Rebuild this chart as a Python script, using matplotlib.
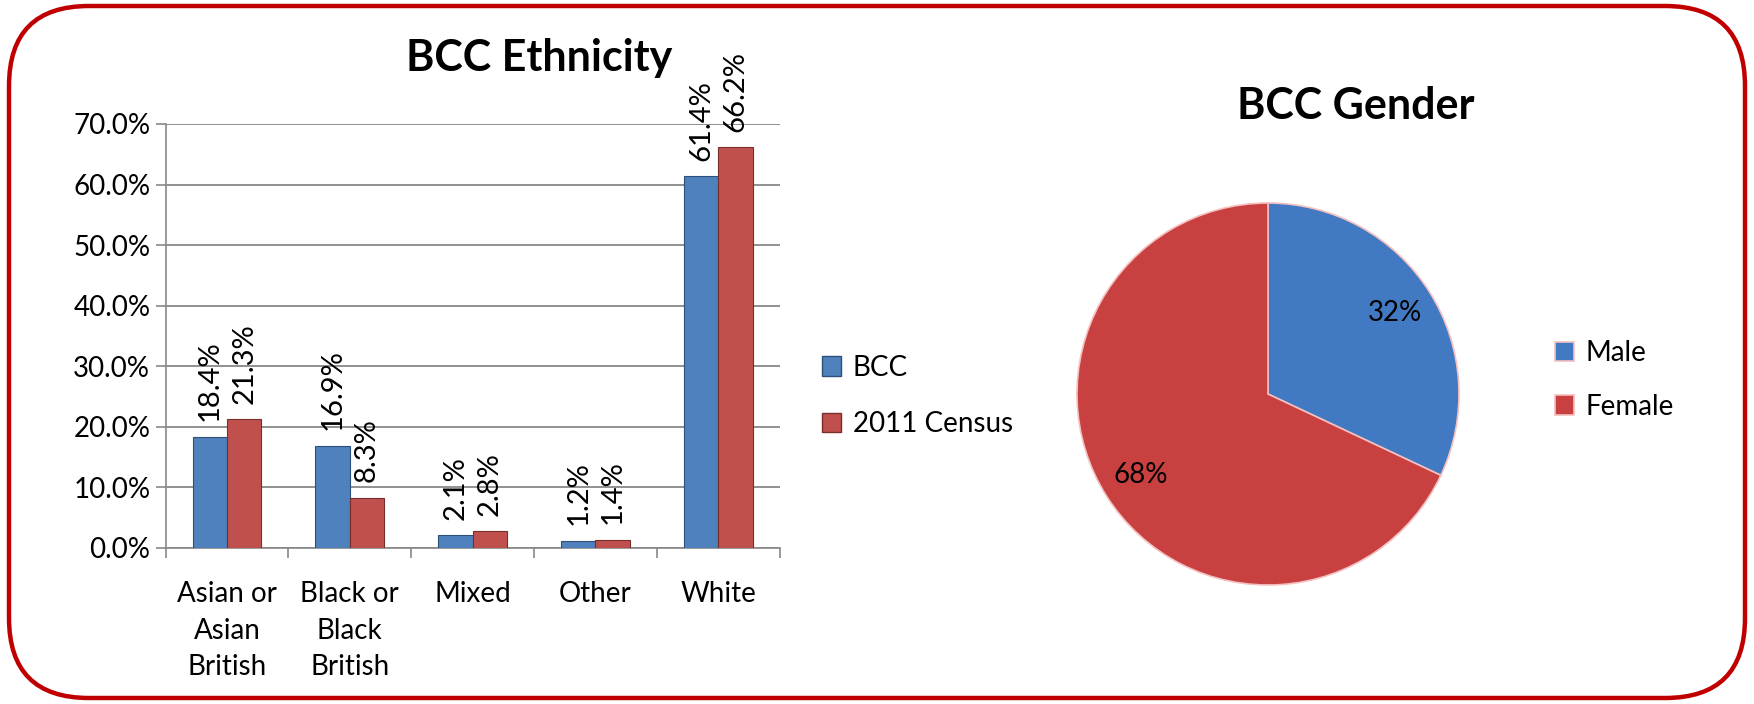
import numpy as np
import matplotlib.pyplot as plt
from matplotlib.patches import FancyBboxPatch, Patch

plt.rcParams['font.family'] = ['Lato', 'DejaVu Sans']

# ethnicity data (fractions)
categories = ["Asian or\nAsian\nBritish", "Black or\nBlack\nBritish", "Mixed", "Other", "White"]
bcc = [0.184, 0.169, 0.021, 0.012, 0.614]
census = [0.213, 0.083, 0.028, 0.014, 0.662]
series_names = ["BCC", "2011 Census"]

# gender data
gender_labels = ["Male", "Female"]
gender_values = [32, 68]

blue = "#4F81BD"
red = "#C0504D"
pie_blue = "#4279C3"
pie_red = "#C8403F"

W, H = 1754, 704
fig = plt.figure(figsize=(W / 100, H / 100), dpi=100)

# background axes for the rounded red frame
bg = fig.add_axes([0, 0, 1, 1], zorder=-1)
bg.set_xlim(0, W)
bg.set_ylim(0, H)
bg.axis('off')
rad = 80
bg.add_patch(FancyBboxPatch((9 + rad, 6 + rad), W - 18 - 2 * rad, H - 12 - 2 * rad,
                            boxstyle=f"round,pad={rad}", fc="white", ec="#C00000", lw=3.2))

# ---------------- bar chart ----------------
ax = fig.add_axes([165.6 / W, 156 / H, 614 / W, 424 / H])
x = np.arange(len(categories))
bw = 0.28
b1 = ax.bar(x - bw / 2, bcc, bw, color=blue, edgecolor="#2E4F7A", lw=0.8, zorder=3)
b2 = ax.bar(x + bw / 2, census, bw, color=red, edgecolor="#7A2E2C", lw=0.8, zorder=3)
for bars, vals in ((b1, bcc), (b2, census)):
    for r, v in zip(bars, vals):
        ax.annotate(f"{v * 100:.1f}%", (r.get_x() + r.get_width() / 2, v),
                    xytext=(0, 11), textcoords="offset points", rotation=90,
                    ha="center", va="bottom", fontsize=21)

ax.set_xlim(-0.5, 4.5)
ax.set_ylim(0, 0.7)
ax.set_yticks(np.arange(0, 0.71, 0.1))
ax.set_yticklabels([f"{t * 100:.1f}%" for t in np.arange(0, 0.71, 0.1)], fontsize=20)
ax.set_xticks(np.arange(-0.5, 4.6, 1))
ax.set_xticklabels([])
ax.set_xticks(x, minor=True)
ax.set_xticklabels(categories, minor=True, fontsize=20, linespacing=1.5)
ax.tick_params(axis='x', which='minor', length=0, pad=24)
ax.tick_params(axis='both', which='major', length=7, color="#888888", width=1.2)
ax.tick_params(axis='y', pad=4)
ax.grid(axis='y', color="#888888", lw=1.3, zorder=0)
for s in ("top", "right"):
    ax.spines[s].set_visible(False)
for s in ("left", "bottom"):
    ax.spines[s].set_color("#888888")
    ax.spines[s].set_linewidth(1.2)

fig.text(539 / W, 1 - 58 / H, "BCC Ethnicity", ha="center", va="center",
         fontsize=31, fontweight="bold")
fig.legend([Patch(fc=blue, ec="#2E4F7A"), Patch(fc=red, ec="#7A2E2C")], series_names,
           loc="center left", bbox_to_anchor=(822 / W, 1 - 396 / H), frameon=False,
           fontsize=20, handlelength=0.7, handleheight=0.7, handletextpad=0.4,
           labelspacing=1.1, borderpad=0, borderaxespad=0)

# ---------------- pie chart ----------------
r = 191
pax = fig.add_axes([(1268 - r) / W, (H - 394 - r) / H, 2 * r / W, 2 * r / H])
wedges, _, autotexts = pax.pie(gender_values, colors=[pie_blue, pie_red], startangle=90,
                               counterclock=False, autopct="%1.0f%%", pctdistance=0.79,
                               wedgeprops=dict(edgecolor="#F4C0C0", lw=1.2),
                               textprops=dict(fontsize=20))
pax.set_xlim(-1, 1)
pax.set_ylim(-1, 1)
pax.set_aspect('equal')

fig.text(1356 / W, 1 - 106 / H, "BCC Gender", ha="center", va="center",
         fontsize=31, fontweight="bold")
fig.legend(wedges, gender_labels, loc="center left", bbox_to_anchor=(1555 / W, 1 - 380 / H),
           frameon=False, fontsize=20, handlelength=0.7, handleheight=0.7,
           handletextpad=0.4, labelspacing=1.0, borderpad=0, borderaxespad=0)

fig.savefig("out.png", dpi=100)
